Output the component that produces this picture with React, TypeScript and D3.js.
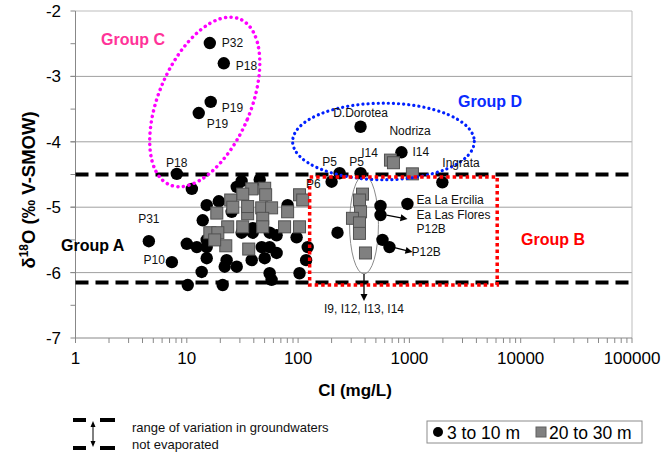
import React from "react";
import * as d3 from "d3";

// ---- data ----
const shallowCl = [16.1, 21.5, 16.4, 12.8, 364, 848, 8.13, 236, 364, 200, 1977, 960, 550, 550, 573, 662, 226, 4.56, 7.34,
  11.1, 31.1, 45.2, 28.1, 15.1, 19.4, 25.3, 80.5, 13.9, 10.0, 12.3, 15.1, 15.1, 31.1, 39.1, 39.1, 64.1, 55.5, 97,
  47.1, 55.5, 64.1, 50.1, 38.3, 22.8, 15.1, 28.1, 21.9, 13.6, 55.5, 57.8, 103, 118, 122, 10.2, 21.0];
const shallowO18 = [-2.49, -2.80, -3.39, -3.56, -3.77, -4.16, -4.49, -4.48, -4.48, -4.61, -4.62, -4.95, -4.98, -5.12, -5.50, -5.61, -5.39, -5.52, -5.84,
  -4.72, -4.60, -4.58, -4.69, -4.97, -4.91, -5.07, -4.97, -5.20, -5.56, -5.61, -5.50, -5.61, -5.39, -5.32, -5.39, -5.43, -5.39, -5.46,
  -5.61, -5.61, -5.70, -5.78, -5.81, -5.81, -5.78, -5.91, -5.91, -5.99, -6.01, -6.11, -6.01, -5.81, -5.61, -6.19, -6.19];

const deepCl = [38.3, 50.1, 51.1, 31.8, 24.8, 25.9, 18.6, 35.2, 35.2, 47.1, 57.8, 80.5, 103, 110, 48.1, 48.1, 23.3, 31.8,
  75.6, 103, 16.1, 19.0, 22.4, 36.0, 17.8, 676, 719, 1064, 379, 356, 364, 308, 356, 356, 403];
const deepO18 = [-4.72, -4.71, -4.81, -4.80, -4.89, -5.00, -5.09, -5.10, -4.99, -5.01, -5.01, -5.07, -4.81, -4.89, -5.17, -5.30, -5.30, -5.30,
  -5.30, -5.30, -5.39, -5.39, -5.59, -5.64, -5.50, -4.28, -4.32, -4.49, -4.80, -4.89, -5.07, -5.17, -5.24, -5.40, -5.70];

const xMajorTicks = [1, 10, 100, 1000, 10000, 100000];
const xTickLabels = ["1", "10", "100", "1000", "10000", "100000"];
const yMajorTicks = [-2, -3, -4, -5, -6, -7];
const yTickLabels = ["-2", "-3", "-4", "-5", "-6", "-7"];
const rangeLimits = [-4.5, -6.15];

// point labels: text, anchor point (Cl, d18O)
const labelText = ["P32", "P18", "P19", "P19", "P18", "P31", "P10", "D.Dorotea", "Nodriza", "I14", "I14", "Ingrata", "P5", "P5", "P6", "Ea La Ercilia", "Ea Las Flores", "P12B", "P12B"];
const labelCl = [16.1, 21.5, 16.4, 12.8, 8.13, 4.56, 7.34, 364, 848, 676, 848, 1977, 236, 364, 200, 960, 550, 550, 662];
const labelO18 = [-2.49, -2.80, -3.39, -3.56, -4.49, -5.52, -5.84, -3.77, -4.16, -4.28, -4.16, -4.62, -4.48, -4.48, -4.61, -4.95, -5.12, -5.12, -5.61];
const labelDx = [12, 12, 11, 8, 0, 0, -7, 0, -12, -21, 11, 0, -10, -4, -11, 9, 36, 36, 22];
const labelDy = [0, 2, 6, 11, -11, -22, -2, -14, -21, -7, 0, -20, -11, -11, 2, -4, 0, 14, 5];
const labelAnchor = ["start", "start", "start", "start", "middle", "middle", "end", "middle", "start", "middle", "start", "start", "middle", "middle", "end", "start", "start", "start", "start"];

// group outlines (value bounds)
const groupDCl = [89.3, 3828];
const groupDO18 = [-3.41, -4.58];
const groupBCl = [127, 6150];
const groupBO18 = [-4.54, -6.19];
const deepIClusterCl = [290, 527];
const deepIClusterO18 = [-4.51, -6.02];
const groupCCenter = [14.5, -3.39];

const font = "'Liberation Sans', Arial, sans-serif";

export default function App() {
  const W = 671, H = 455;
  const x = d3.scaleLog().domain([1, 100000]).range([75.5, 632]);
  const y = d3.scaleLinear().domain([-2, -7]).range([11, 338]);
  const x0 = x.range()[0], x1 = x.range()[1];
  const y0 = y.range()[0], y1 = y.range()[1];

  const minorX: number[] = [];
  for (let d = 1; d < 100000; d *= 10) for (let k = 2; k <= 9; k++) minorX.push(d * k);
  const minorY = d3.range(-2.5, -7, -0.5);

  const dash = "13 7";
  const cx = (v: number) => x(v);

  const iClX0 = x(deepIClusterCl[0]), iClX1 = x(deepIClusterCl[1]);
  const iClY0 = y(deepIClusterO18[0]), iClY1 = y(deepIClusterO18[1]);
  const iClCx = (iClX0 + iClX1) / 2;

  const arrow = (xa: number, ya: number, xb: number, yb: number, key: string) => {
    const ang = Math.atan2(yb - ya, xb - xa);
    const L = 7, w = 3.5;
    const p1 = [xb - L * Math.cos(ang) + w * Math.sin(ang), yb - L * Math.sin(ang) - w * Math.cos(ang)];
    const p2 = [xb - L * Math.cos(ang) - w * Math.sin(ang), yb - L * Math.sin(ang) + w * Math.cos(ang)];
    return (
      <g key={key}>
        <line x1={xa} y1={ya} x2={xb - 4 * Math.cos(ang)} y2={yb - 4 * Math.sin(ang)} stroke="#000" strokeWidth={1.3} />
        <path d={`M${xb},${yb}L${p1[0]},${p1[1]}L${p2[0]},${p2[1]}Z`} fill="#000" />
      </g>
    );
  };

  return (
    <svg width={W} height={H} style={{ position: "absolute", left: 0, top: 0, background: "#fff" }} fontFamily={font}>
      <rect x={0} y={0} width={W} height={H} fill="#fff" />
      {/* grid */}
      {yMajorTicks.slice(1, -1).map((t) => (
        <line key={"g" + t} x1={x0} x2={x1} y1={y(t)} y2={y(t)} stroke="#a0a0a0" strokeWidth={1} />
      ))}
      <line x1={x0} x2={x1} y1={y0} y2={y0} stroke="#bdbdbd" strokeWidth={1} />
      <line x1={x1} x2={x1} y1={y0} y2={y1} stroke="#bdbdbd" strokeWidth={1} />
      {/* axes */}
      <line x1={x0} x2={x0} y1={y0} y2={y1} stroke="#888" strokeWidth={1} />
      <line x1={x0} x2={x1} y1={y1} y2={y1} stroke="#888" strokeWidth={1} />
      {[...yMajorTicks, ...minorY].map((t) => (
        <line key={"yt" + t} x1={x0 - 5} x2={x0} y1={y(t)} y2={y(t)} stroke="#888" />
      ))}
      {[...xMajorTicks, ...minorX].map((t) => (
        <line key={"xt" + t} x1={x(t)} x2={x(t)} y1={y1} y2={y1 + 5} stroke="#888" />
      ))}
      {yMajorTicks.map((t, i) => (
        <text key={"yl" + t} x={61} y={y(t)} dy="0.35em" textAnchor="end" fontSize={17} fill="#000">{yTickLabels[i]}</text>
      ))}
      {xMajorTicks.map((t, i) => (
        <text key={"xl" + t} x={x(t)} y={364} textAnchor="middle" fontSize={17} fill="#000">{xTickLabels[i]}</text>
      ))}
      <text x={355} y={396} textAnchor="middle" fontSize={17} fontWeight="bold">Cl (mg/L)</text>
      <text transform="translate(35,190) rotate(-90)" textAnchor="middle" fontSize={18.5} fontWeight="bold">
        δ<tspan dy={-7} fontSize={12}>18</tspan><tspan dy={7}>O (‰ V-SMOW)</tspan>
      </text>

      {/* range lines */}
      {rangeLimits.map((v) => (
        <line key={"r" + v} x1={x0} x2={x1} y1={y(v)} y2={y(v)} stroke="#000" strokeWidth={4} strokeDasharray={dash} />
      ))}

      {/* I-cluster ellipse */}
      <ellipse cx={iClCx} cy={(iClY0 + iClY1) / 2} rx={(iClX1 - iClX0) / 2} ry={(iClY1 - iClY0) / 2} fill="none" stroke="#8a8a8a" strokeWidth={1} />

      {/* shallow points */}
      {shallowCl.map((c, i) => (
        <circle key={"c" + i} cx={cx(c)} cy={y(shallowO18[i])} r={6.2} fill="#000" />
      ))}
      {/* deep points */}
      {deepCl.map((c, i) => (
        <rect key={"s" + i} x={cx(c) - 6} y={y(deepO18[i]) - 6} width={12} height={12} fill="#808080" stroke="#505050" strokeWidth={1} />
      ))}

      {/* group outlines */}
      <ellipse cx={(x(groupDCl[0]) + x(groupDCl[1])) / 2} cy={(y(groupDO18[0]) + y(groupDO18[1])) / 2}
        rx={(x(groupDCl[1]) - x(groupDCl[0])) / 2} ry={(y(groupDO18[1]) - y(groupDO18[0])) / 2}
        fill="none" stroke="#0020ff" strokeWidth={3.2} strokeDasharray="0.1 5" strokeLinecap="round" />
      <rect x={x(groupBCl[0])} y={y(groupBO18[0])} width={x(groupBCl[1]) - x(groupBCl[0])} height={y(groupBO18[1]) - y(groupBO18[0])}
        fill="none" stroke="#ff0000" strokeWidth={3.5} strokeDasharray="3.5 3" />
      <ellipse cx={0} cy={0} rx={46} ry={90} transform={`translate(${x(groupCCenter[0])},${y(groupCCenter[1])}) rotate(23)`}
        fill="none" stroke="#ff00ff" strokeWidth={3.5} strokeDasharray="0.1 5.5" strokeLinecap="round" />

      {/* group labels */}
      <text x={101} y={45} fontSize={16} fontWeight="bold" fill="#ff3399">Group C</text>
      <text x={458} y={107} fontSize={16} fontWeight="bold" fill="#0a2bff">Group D</text>
      <text x={521} y={245} fontSize={16} fontWeight="bold" fill="#ff0000">Group B</text>
      <text x={61} y={251} fontSize={16} fontWeight="bold" fill="#000">Group A</text>

      {/* point labels */}
      {labelText.map((t, i) => (
        <text key={"l" + i} x={x(labelCl[i]) + labelDx[i]} y={y(labelO18[i]) + labelDy[i]} dy="0.35em"
          textAnchor={labelAnchor[i] as any} fontSize={12} fill="#111">{t}</text>
      ))}
      <text x={iClCx} y={y(-6.55)} dy="0.35em" textAnchor="middle" fontSize={12} fill="#111">I9, I12, I13, I14</text>

      {/* arrows */}
      {arrow(x(550) + 6, y(-5.12), x(550) + 27, y(-5.12) + 4, "a1")}
      {arrow(x(662) + 3, y(-5.61), x(662) + 23, y(-5.61) + 5, "a2")}
      {arrow(iClCx, iClY1, iClCx, iClY1 + 27, "a3")}

      {/* legend left */}
      <g>
        <line x1={73} x2={86} y1={420} y2={420} stroke="#000" strokeWidth={4} />
        <line x1={100} x2={115} y1={420} y2={420} stroke="#000" strokeWidth={4} />
        <line x1={73} x2={86} y1={448} y2={448} stroke="#000" strokeWidth={4} />
        <line x1={100} x2={115} y1={448} y2={448} stroke="#000" strokeWidth={4} />
        <line x1={93} x2={93} y1={425} y2={443} stroke="#000" strokeWidth={1} />
        <path d="M93,421L90.5,427L95.5,427Z" fill="#000" />
        <path d="M93,447L90.5,441L95.5,441Z" fill="#000" />
        <text x={132} y={432} fontSize={13} fill="#111">range of variation in groundwaters</text>
        <text x={132} y={449} fontSize={13} fill="#111">not evaporated</text>
      </g>
      {/* legend right */}
      <g>
        <rect x={427} y={421} width={215} height={22} fill="#fff" stroke="#8c8c8c" strokeWidth={1} />
        <circle cx={438} cy={432} r={5} fill="#000" />
        <text x={447} y={438.5} fontSize={17.5} fill="#000">3 to 10 m</text>
        <rect x={536} y={427} width={10} height={10} fill="#808080" stroke="#606060" strokeWidth={1} />
        <text x={549} y={438.5} fontSize={17.5} fill="#000">20 to 30 m</text>
      </g>
    </svg>
  );
}
